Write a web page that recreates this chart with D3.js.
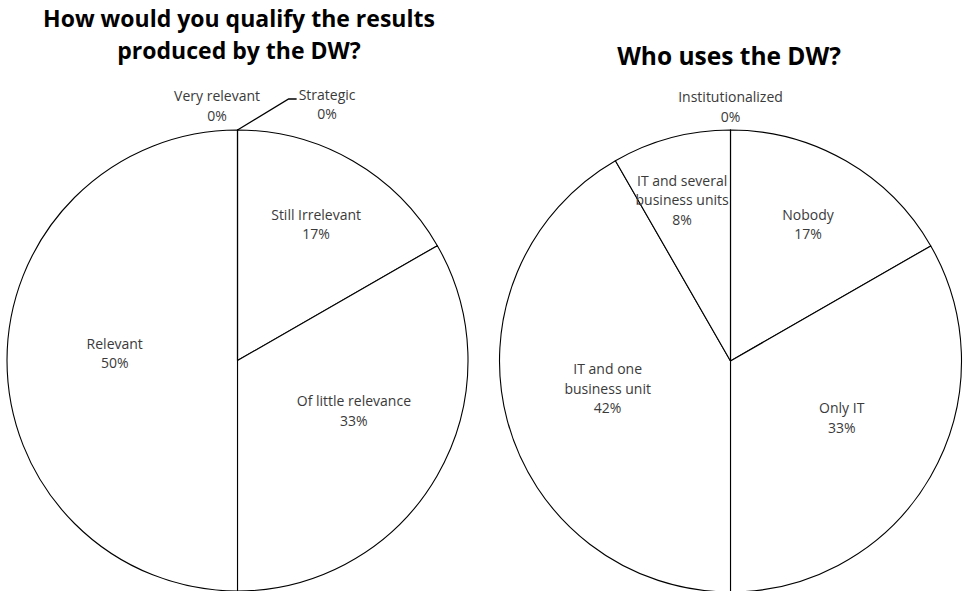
<!DOCTYPE html>
<html>
<head>
<meta charset="utf-8">
<script src="https://cdn.jsdelivr.net/npm/d3@7"></script>
<style>
  html, body { margin: 0; padding: 0; background: #fff; }
  svg { display: block; }
</style>
</head>
<body>
<svg id="chart" width="965" height="591"></svg>
<script>
// Survey answers, share of respondents in percent
const qualityCategories = ["Still Irrelevant", "Of little relevance", "Relevant", "Very relevant", "Strategic"];
const qualityValues = [16.7, 33.3, 50, 0, 0];
const qualityTitle = ["How would you qualify the results", "produced by the DW?"];

const usersCategories = ["Nobody", "Only IT", "IT and one business unit", "IT and several business units", "Institutionalized"];
const usersValues = [16.7, 33.3, 41.7, 8.3, 0];
const usersTitle = ["Who uses the DW?"];

// Label placement per slice: distance from centre and angular nudge (degrees)
const qualityLabelPlacement = [
  { r: 157, shift: 0 }, { r: 127, shift: -6.5 }, { r: 123, shift: 3.3 },
  { r: 255, shift: -4.6 }, { r: 271, shift: 19.3, leader: true }
];
const usersLabelPlacement = [
  { r: 157, shift: -0.5 }, { r: 125, shift: -2.9 }, { r: 126, shift: 2.1 },
  { r: 168, shift: -1.8 }, { r: 254, shift: 0 }
];

const svg = d3.select("#chart");
const labelFont = "'Open Sans', 'DejaVu Sans', sans-serif";
const labelSize = 14;
const lineStep = 19.5;
const wrapWidth = 120;

// Greedy word wrap using measured text widths
const measurer = svg.append("text")
  .attr("font-family", labelFont).attr("font-size", labelSize)
  .attr("visibility", "hidden");
function wrap(str) {
  const words = str.split(" ");
  const lines = [];
  let line = "";
  words.forEach(w => {
    const test = line ? line + " " + w : w;
    measurer.text(test);
    if (line && measurer.node().getComputedTextLength() > wrapWidth) {
      lines.push(line);
      line = w;
    } else {
      line = test;
    }
  });
  if (line) lines.push(line);
  return lines;
}

function drawPie(opts) {
  const { categories, values, title, titleX, titleSize, titleBaselines, cx, cy, radius, placement } = opts;

  svg.append("g").selectAll("text")
    .data(title)
    .join("text")
    .attr("x", titleX)
    .attr("y", (d, i) => titleBaselines[i])
    .attr("text-anchor", "middle")
    .attr("font-family", labelFont)
    .attr("font-weight", 700)
    .attr("font-size", titleSize)
    .attr("fill", "#000")
    .text(d => d);

  const data = categories.map((c, i) => ({ category: c, value: values[i] }));
  const pie = d3.pie().sort(null).value(d => d.value);
  const arcs = pie(data);
  const arc = d3.arc().innerRadius(0).outerRadius(radius);

  const g = svg.append("g").attr("transform", `translate(${cx},${cy})`);

  g.selectAll("path.slice")
    .data(arcs)
    .join("path")
    .attr("class", "slice")
    .attr("d", arc)
    .attr("fill", "#fff")
    .attr("stroke", "#000")
    .attr("stroke-width", 1.1)
    .attr("stroke-linejoin", "round");

  const total = d3.sum(values);
  const pct = v => Math.round(v / total * 100) + "%";

  arcs.forEach((a, i) => {
    const p = placement[i];
    const mid = (a.startAngle + a.endAngle) / 2 + p.shift * Math.PI / 180;
    const lx = Math.sin(mid) * p.r;
    const ly = -Math.cos(mid) * p.r;
    const lines = wrap(a.data.category).concat([pct(a.data.value)]);
    const n = lines.length;

    const t = g.append("text")
      .attr("text-anchor", "middle")
      .attr("font-family", labelFont)
      .attr("font-size", labelSize)
      .attr("fill", "#3a3a3a");
    lines.forEach((ln, k) => {
      t.append("tspan")
        .attr("x", lx)
        .attr("y", ly + (k - (n - 1) / 2) * lineStep)
        .attr("dy", "0.35em")
        .text(ln);
    });

    if (p.leader) {
      const bb = t.node().getBBox();
      const edge = [Math.sin(a.startAngle) * radius, -Math.cos(a.startAngle) * radius];
      const ty = ly - (n - 1) / 2 * lineStep + 4;
      const tx = bb.x - 2;
      g.append("path")
        .attr("d", d3.line()([edge, [tx - 8, ty], [tx, ty]]))
        .attr("fill", "none")
        .attr("stroke", "#000")
        .attr("stroke-width", 1.3);
    }
  });
}

drawPie({
  categories: qualityCategories,
  values: qualityValues,
  title: qualityTitle,
  titleX: 239,
  titleSize: 23,
  titleBaselines: [27, 59],
  cx: 237.5, cy: 360.5, radius: 230.5,
  placement: qualityLabelPlacement
});

drawPie({
  categories: usersCategories,
  values: usersValues,
  title: usersTitle,
  titleX: 729,
  titleSize: 24.5,
  titleBaselines: [65],
  cx: 730.5, cy: 361, radius: 231,
  placement: usersLabelPlacement
});

measurer.remove();
</script>
</body>
</html>
